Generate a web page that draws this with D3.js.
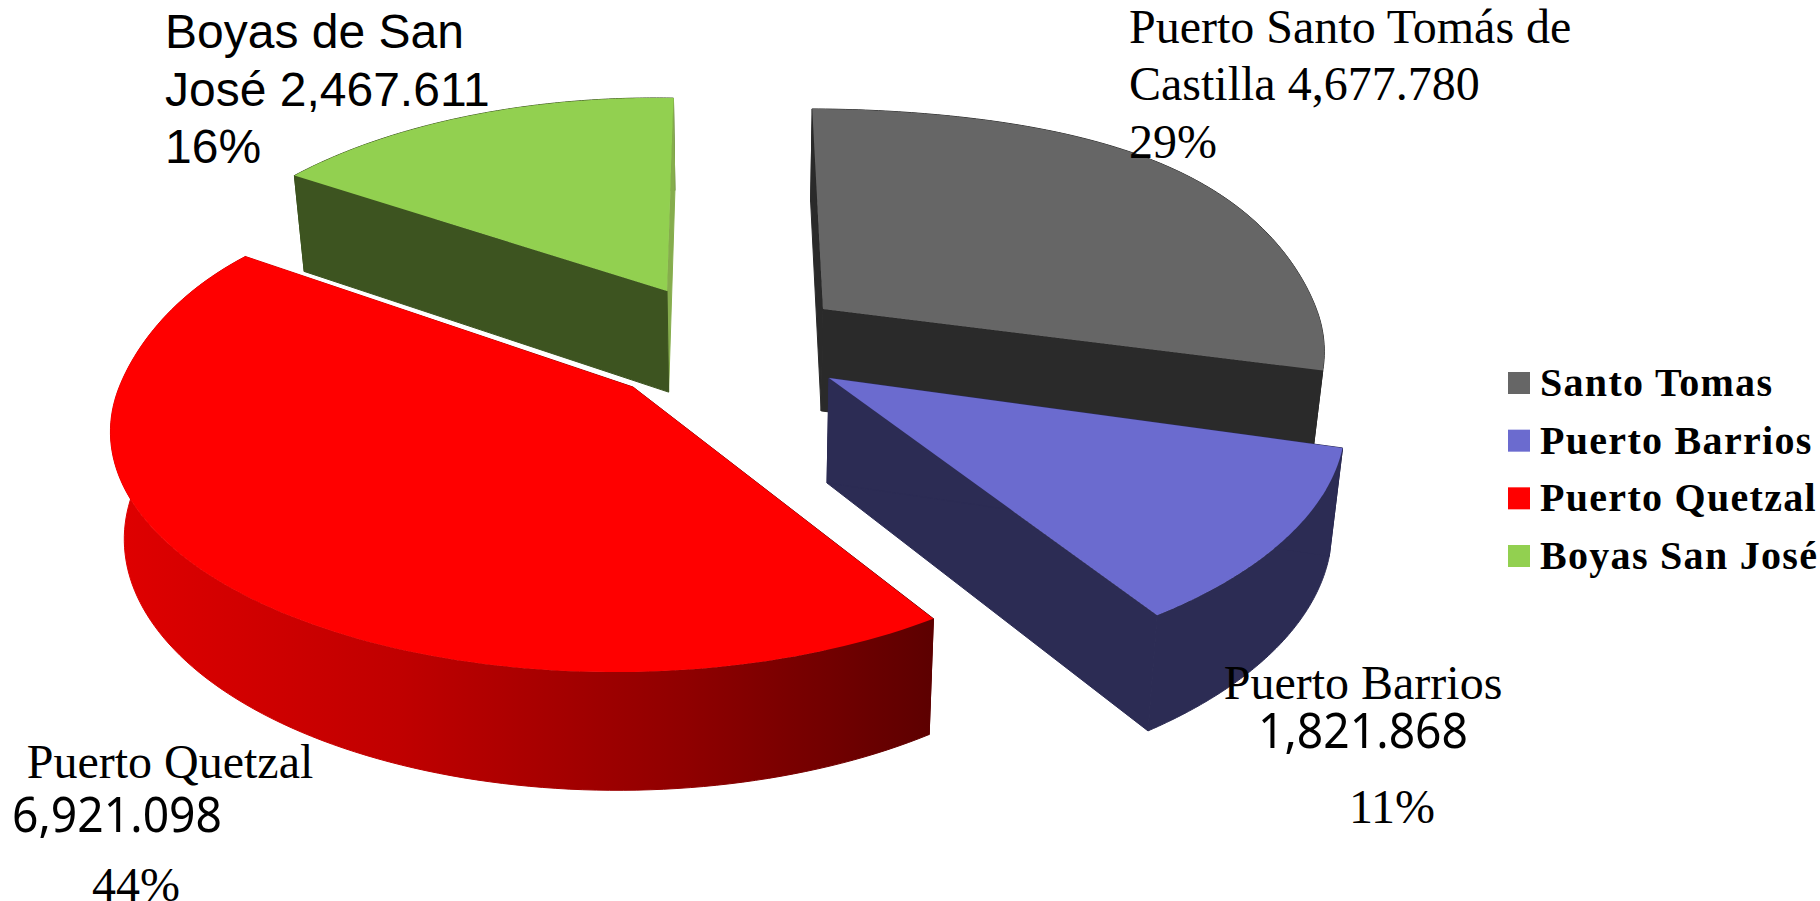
<!DOCTYPE html>
<html><head><meta charset="utf-8">
<script src="https://cdn.jsdelivr.net/npm/d3@7/dist/d3.min.js"></script>
<style>html,body{margin:0;padding:0;background:#fff;overflow:hidden}text{fill:#000}</style>
</head><body><svg id="c" width="1820" height="901"></svg>
<script>
const ports = ["Santo Tomas","Puerto Barrios","Puerto Quetzal","Boyas San José"];
const values = [4677.780,1821.868,6921.098,2467.611];
const topColors = ["#666666","#6b6bcf","#ff0000","#92d050"];
const sideColors = ["#2a2a2a","#2c2c54","url(#redSide)","#3d5420"];
const endWallColors = ["#2a2a2a","#2c2c54","url(#redSide)","#86ad4d"];

// per-slice layout: apex in page px, x/y scale, small nudges of the slice ends, upper-rim squareness
const layout = [
 {x:823,y:309,sx:1.035,sy:1.0,a0:-0.005,a1:0,c:0.25,d:0.08},
 {x:829,y:378,sx:1.066,sy:1.035,a0:0.025,a1:0.018,c:0,d:0},
 {x:633,y:387,sx:1.015,sy:0.99,a0:0.045,a1:0.028,c:0.25,d:0.08},
 {x:667,y:291,sx:0.97,sy:0.965,a0:0,a1:0.036,c:0,d:0}
];
const R=491,S=236,K=0.18,M=0.03;
const svg=d3.select("#c");
const grad=svg.append("defs").append("linearGradient").attr("id","redSide").attr("gradientUnits","userSpaceOnUse")
 .attr("x1",110).attr("x2",935).attr("y1",0).attr("y2",0);
[[0,"#e00000"],[0.35,"#c00000"],[0.7,"#8f0000"],[1,"#5c0000"]].forEach(d=>grad.append("stop").attr("offset",d[0]).attr("stop-color",d[1]));

const arcs=d3.pie().sort(null).startAngle(-0.02).endAngle(2*Math.PI-0.02)(values);
function proj(i,t){
 const l=layout[i];
 let u=Math.sin(t),v=-Math.cos(t);
 const w=1-K*v+M*u;
 if(v<0){
  const av=-v;
  v=v*(1+l.c*av*(1-av));
  u=u*(1+l.d*u*u*(1-u*u));
 }
 return [l.x+l.sx*R*u/w,l.y+l.sy*S*v/w];
}
const base=p=>[p[0]+(740-p[0])*0.022,p[1]*1.045+88];
const line=d3.line();
function outline(i,a){
 const n=120,t0=a.startAngle+layout[i].a0,t1=a.endAngle+layout[i].a1;
 return d3.range(n+1).map(k=>proj(i,t0+(t1-t0)*k/n));
}
const order=[0,3,1,2];
order.forEach(i=>{
 const a=arcs[i],pts=outline(i,a),apex=[layout[i].x,layout[i].y],last=pts[pts.length-1];
 const g=svg.append("g");
 const wall=(p,c)=>g.append("path").attr("d",line(p)+"Z").attr("fill",c).attr("stroke",c).attr("stroke-width",1);
 wall(pts.concat(pts.map(base).reverse()),sideColors[i]);
 wall([apex,last,base(last),base(apex)],endWallColors[i]);
 wall([apex,pts[0],base(pts[0]),base(apex)],sideColors[i]);
 g.append("path").attr("d",line([apex].concat(pts))+"Z").attr("fill",topColors[i]);
});
// legend
const ly=d3.scalePoint().domain(ports).range([383,556]);
const lg=svg.append("g").selectAll("g").data(ports).join("g").attr("transform",d=>`translate(0,${ly(d)})`);
lg.append("rect").attr("x",1508).attr("y",-11).attr("width",22).attr("height",22).attr("fill",(d,i)=>topColors[i]);
lg.append("text").text(d=>d).attr("x",1540).attr("y",13).attr("font-family","Liberation Serif").attr("font-weight","bold").attr("font-size",40).attr("letter-spacing",1.3);

const serif="Liberation Serif",sans="Liberation Sans",num="Noto Sans";
const labels=[
 ["Boyas de San",165,48,sans,48,"start"],
 ["José 2,467.611",165,106,sans,48,"start"],
 ["16%",165,163,sans,48,"start"],
 ["Puerto Santo Tomás de",1129,43,serif,48,"start"],
 ["Castilla 4,677.780",1129,100,serif,48,"start"],
 ["29%",1129,158,serif,48,"start"],
 ["Puerto Barrios",1363,699,serif,48,"middle"],
 ["1,821.868",1363,748,num,50,"middle",210],
 ["11%",1392,823,serif,48,"middle"],
 ["Puerto Quetzal",170,778,serif,48,"middle"],
 ["6,921.098",117,832,num,50,"middle",210],
 ["44%",136,901,serif,48,"middle"]
];
svg.append("g").selectAll("text").data(labels).join("text").text(d=>d[0]).attr("x",d=>d[1]).attr("y",d=>d[2])
 .attr("font-family",d=>d[3]).attr("font-size",d=>d[4]).attr("text-anchor",d=>d[5])
 .each(function(d){ if(d[6]) d3.select(this).attr("textLength",d[6]).attr("lengthAdjust","spacingAndGlyphs"); });
</script></body></html>
